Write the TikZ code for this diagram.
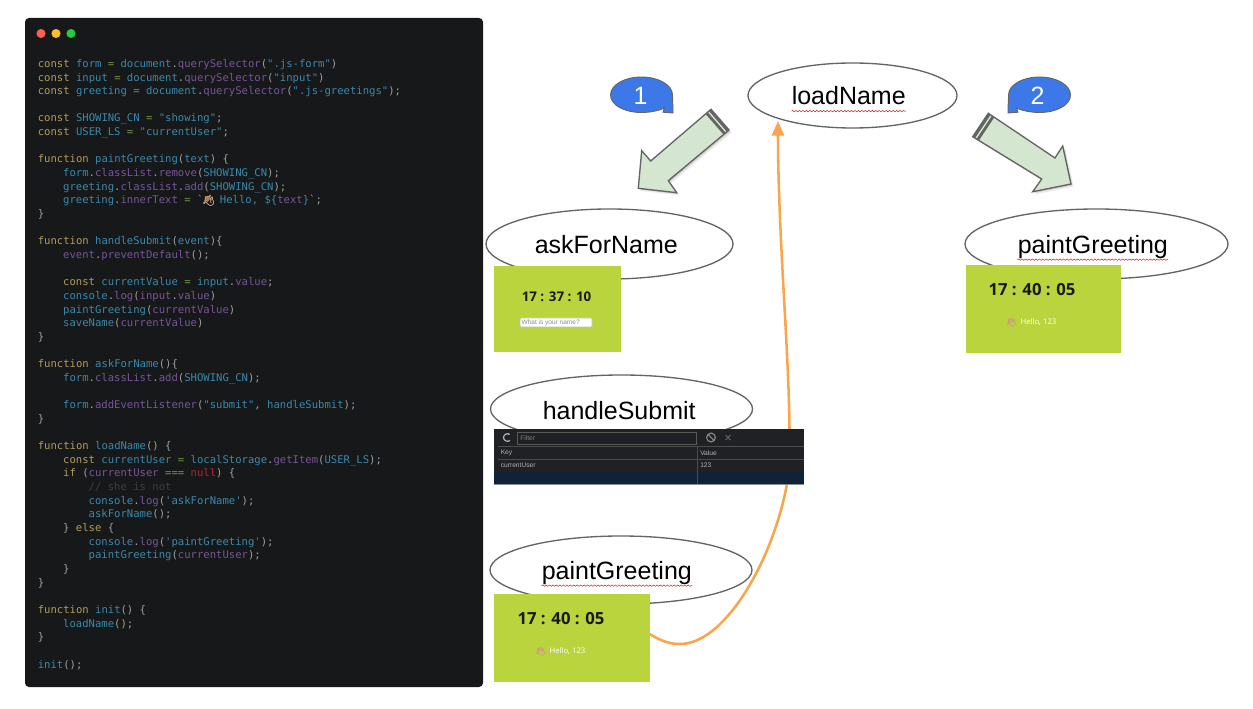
\documentclass[tikz,border=0pt]{standalone}
\usepackage{fontspec}
\setmainfont{Liberation Sans}
\setmonofont{DejaVu Sans Mono}
\newfontfamily\clockfont{Open Sans}
\newfontfamily\emojifont[FakeBold=2]{Noto Emoji}
\usetikzlibrary{positioning,arrows.meta,shapes.geometric,calc,shadows,decorations.pathmorphing}
\definecolor{panelcol}{RGB}{22,24,25}
\definecolor{kwcol}{RGB}{176,156,92}
\definecolor{varcol}{RGB}{58,138,172}
\definecolor{mtdcol}{RGB}{120,85,155}
\definecolor{opcol}{RGB}{115,150,70}
\definecolor{nullcol}{RGB}{165,40,60}
\definecolor{cmtcol}{RGB}{60,64,68}
\definecolor{puncol}{RGB}{160,160,155}
\definecolor{limecol}{RGB}{186,212,62}
\definecolor{flowcol}{RGB}{250,165,75}
\definecolor{bubcol}{RGB}{60,120,232}
\definecolor{arrcol}{RGB}{213,230,208}
\definecolor{edgecol}{RGB}{100,100,100}
\definecolor{devcol}{RGB}{32,33,36}
\definecolor{selcol}{RGB}{15,34,56}
\definecolor{skincol}{RGB}{205,160,125}
\definecolor{closecol}{RGB}{255,95,86}
\definecolor{mincol}{RGB}{255,189,46}
\definecolor{maxcol}{RGB}{39,201,63}
\newcommand{\cKw}[1]{\textcolor{kwcol}{#1}}
\newcommand{\cVr}[1]{\textcolor{varcol}{#1}}
\newcommand{\cMt}[1]{\textcolor{mtdcol}{#1}}
\newcommand{\cOp}[1]{\textcolor{opcol}{#1}}
\newcommand{\hand}{{\emojifont\textcolor{skincol}{^^^^^1f44b}}}
\def\px{0.75pt}

\begin{document}
\begin{tikzpicture}[
  x=0.75pt, y=-0.75pt,
  codeline/.style={anchor=base west, inner sep=0pt, font=\ttfamily\fontsize{7.94}{9}\selectfont, text=puncol},
  oval/.style={ellipse, draw=edgecol, fill=white, line width=1pt, inner sep=0pt},
  ovaltxt/.style={anchor=base west, inner sep=0pt, font=\fontsize{18.75}{20}\selectfont},
  shot/.style={rectangle, fill=limecol, inner sep=0pt},
  clock/.style={font=\clockfont\bfseries\fontsize{#1}{14}\selectfont, text=black!90, inner sep=0pt},
  hello/.style={font=\clockfont\fontsize{5.8}{7}\selectfont, text=white, inner sep=0pt},
  devtxt/.style={font=\fontsize{5}{6}\selectfont, text=black!30, inner sep=0pt, anchor=west},
  devbar/.style={rectangle, inner sep=0pt, anchor=north west},
  bubble/.style={draw=edgecol, fill=bubcol, line width=0.7pt},
  bubtxt/.style={font=\fontsize{18.75}{20}\selectfont, text=white, inner sep=0pt},
  blockarrow/.style={draw=edgecol, fill=arrcol, line width=1pt, line join=miter,
                     drop shadow={shadow xshift=2pt, shadow yshift=-2pt, opacity=0.15},
                     drop shadow={shadow xshift=1pt, shadow yshift=-1pt, opacity=0.3}},
  squiggle/.style={red!75!black, line width=0.3pt, decorate,
                   decoration={snake, amplitude=0.55pt, segment length=2.6pt}},
  flow/.style={-{Triangle[length=11pt, width=9pt]}, flowcol, line width=1.9pt},
]
\useasboundingbox (0,0) rectangle (1253,709);
\fill[white] (0,0) rectangle (1253,709);

% Code panel
\fill[panelcol, rounded corners=3pt] (25,18) rectangle (483,687);
\foreach \dotx/\dotcol in {41/closecol,56/mincol,71/maxcol}
  \fill[\dotcol] (\dotx,33.5) circle (3.4pt);

\foreach \row/\ind/\txt in {
  0/0/{\cKw{const} \cVr{form} \cOp{=} \cVr{document}.\cMt{querySelector}(\cVr{".js-form"})},
  1/0/{\cKw{const} \cVr{input} \cOp{=} \cVr{document}.\cMt{querySelector}(\cVr{"input"})},
  2/0/{\cKw{const} \cVr{greeting} \cOp{=} \cVr{document}.\cMt{querySelector}(\cVr{".js-greetings"});},
  4/0/{\cKw{const} \cVr{SHOWING\_CN} \cOp{=} \cVr{"showing"};},
  5/0/{\cKw{const} \cVr{USER\_LS} \cOp{=} \cVr{"currentUser"};},
  7/0/{\cKw{function} \cVr{paintGreeting}(\cVr{text}) \{},
  8/4/{\cVr{form}.\cMt{classList}.\cMt{remove}(\cVr{SHOWING\_CN});},
  9/4/{\cVr{greeting}.\cMt{classList}.\cMt{add}(\cVr{SHOWING\_CN});},
  10/4/{\cVr{greeting}.\cMt{innerText} \cOp{=} `\makebox[7.6pt][c]{\hand} \cVr{Hello, \$\{}\cMt{text}\cVr{\}}`;},
  11/0/{\}},
  13/0/{\cKw{function} \cVr{handleSubmit}(\cVr{event})\{},
  14/4/{\cMt{event}.\cMt{preventDefault}();},
  16/4/{\cKw{const} \cVr{currentValue} \cOp{=} \cVr{input}.\cMt{value};},
  17/4/{\cVr{console}.\cMt{log}(\cMt{input}.\cMt{value})},
  18/4/{\cVr{paintGreeting}(\cMt{currentValue})},
  19/4/{\cVr{saveName}(\cMt{currentValue})},
  20/0/{\}},
  22/0/{\cKw{function} \cVr{askForName}()\{},
  23/4/{\cVr{form}.\cMt{classList}.\cMt{add}(\cVr{SHOWING\_CN});},
  25/4/{\cVr{form}.\cMt{addEventListener}(\cVr{"submit"}, \cVr{handleSubmit});},
  26/0/{\}},
  28/0/{\cKw{function} \cVr{loadName}() \{},
  29/4/{\cKw{const} \cVr{currentUser} \cOp{=} \cVr{localStorage}.\cMt{getItem}(\cVr{USER\_LS});},
  30/4/{\cKw{if} (\cMt{currentUser} \cOp{===} \textcolor{nullcol}{null}) \{},
  31/8/{\textcolor{cmtcol}{// she is not}},
  32/8/{\cVr{console}.\cMt{log}(\cVr{'askForName'});},
  33/8/{\cVr{askForName}();},
  34/4/{\} \cKw{else} \{},
  35/8/{\cVr{console}.\cMt{log}(\cVr{'paintGreeting'});},
  36/8/{\cVr{paintGreeting}(\cMt{currentUser});},
  37/4/{\}},
  38/0/{\}},
  40/0/{\cKw{function} \cVr{init}() \{},
  41/4/{\cVr{loadName}();},
  42/0/{\}},
  44/0/{\cVr{init}();}
} { \node[codeline] (code\row) at (37.5+6.37*\ind, 67.4+13.65*\row) {\txt}; }

% Function ovals
\node[oval, minimum width=209*\px, minimum height=65*\px] (loadname) at (852.5,95.5) {};
\node[oval, minimum width=247*\px, minimum height=70*\px] (askname)  at (609.5,244) {};
\node[oval, minimum width=262*\px, minimum height=68*\px] (submit)   at (621.5,409) {};
\node[oval, minimum width=262*\px, minimum height=68*\px] (paintl)   at (621,570) {};
\node[oval, minimum width=263*\px, minimum height=70*\px] (paintr)   at (1096.5,244) {};

\node[ovaltxt] (loadtxt)   at (791.5,105) {loadName};
\node[ovaltxt] (asktxt)    at (534.5,254) {askForName};
\node[ovaltxt] (submittxt) at (542.5,419.5) {handleSubmit};
\node[ovaltxt] (paintltxt) at (541.5,579.5) {paintGreeting};
\node[ovaltxt] (paintrtxt) at (1017.5,253.5) {paintGreeting};

\foreach \lbl in {loadtxt,paintltxt,paintrtxt}
  \draw[squiggle] ([yshift=-4.6pt]\lbl.base west) -- ([yshift=-4.6pt]\lbl.base east);

% Return curve, the panels sit on top of it
\coordinate (flowstart) at (640,628);
\coordinate (flowend) at (778,121);
\draw[flow] (flowstart) .. controls (662,643) and (672,644) .. (680,644)
  .. controls (725,644) and (773,560) .. (787,484)
  .. controls (796,420) and (778,260) .. (flowend);

% Screenshots
\node[shot, minimum width=127*\px, minimum height=86*\px] (shota) at (557.5,309) {};
\node[clock=10] (timea) at (556.5,297) {17 : 37 : 10};
\node[draw=black!25, fill=white, rounded corners=0.8pt, inner sep=0pt, minimum width=72*\px, minimum height=9*\px] (inputa) at (556,322.5) {};
\node[font=\fontsize{4.9}{5}\selectfont, text=black!45, inner sep=0pt, right=1.2pt of inputa.west] (hinta) {What is your name?};

\node[shot, minimum width=156*\px, minimum height=88*\px] (shotc) at (572,638) {};
\node[clock=12.5] (timec) at (561,619) {17 : 40 : 05};
\node[hello] (helloc) at (567.5,651) {Hello, 123};
\node[font=\emojifont\fontsize{6.5}{7}\selectfont, text=skincol, inner sep=0pt, left=2.5pt of helloc] (handc) {^^^^^1f44b};

\node[shot, minimum width=155*\px, minimum height=88*\px] (shotr) at (1043.5,309) {};
\node[clock=12.5] (timer) at (1032,290) {17 : 40 : 05};
\node[hello] (hellor) at (1038.5,322) {Hello, 123};
\node[font=\emojifont\fontsize{6.5}{7}\selectfont, text=skincol, inner sep=0pt, left=2.5pt of hellor] (handr) {^^^^^1f44b};

% Storage panel
\node[devbar, fill=devcol, minimum width=310*\px, minimum height=56*\px] (dev) at (494,428.5) {};
\node[devbar, fill=selcol, minimum width=310*\px, minimum height=12*\px] (devsel) at (494,472) {};
\draw[black!70!white, line width=0.5pt] (498,446.5) -- (804,446.5) (498,459) -- (804,459);
\draw[black!70!white, line width=0.5pt] (697.5,446.5) -- (697.5,484);
\draw[black!45, line width=0.5pt] (494,484.5) -- (804,484.5);
\node[devbar, draw=black!65, minimum width=179*\px, minimum height=12*\px] (filter) at (517,431.5) {};
\node[devtxt, text=black!50] (filtertxt) at (520,438) {Filter};
\node[devtxt] (keytxt) at (500.5,452.8) {Key};
\node[devtxt] (valtxt) at (700,452.8) {Value};
\node[devtxt] (usertxt) at (500.5,465.3) {currentUser};
\node[devtxt] (numtxt) at (700,465.3) {123};
\draw[black!30, line width=0.9pt, -{Stealth[length=2pt]}] (510,440.5) .. controls (507.5,442.5) and (503.5,440.5) .. (503.5,437.5)
  .. controls (503.5,434.5) and (507.5,433) .. (510,435);
\draw[black!45, line width=0.8pt] (711,437.5) circle (3.3pt) (708,434.5) -- (714,440.5);
\draw[black!60, line width=0.6pt] (725.5,435) -- (730.5,440) (725.5,440) -- (730.5,435);

% Step bubbles
\draw[bubble] (672.5,95) .. controls (672.5,85) and (658.5,77) .. (641.5,77)
  .. controls (624.5,77) and (610.5,85) .. (610.5,95)
  .. controls (610.5,105) and (624.5,112.5) .. (641.5,112.5)
  .. controls (649,112.5) and (658,111) .. (664.5,108) -- (663,112.2) -- (673,113) -- (673,106.5)
  .. controls (672.5,102) and (672.5,99) .. (672.5,95) -- cycle;
\node[bubtxt] (stepone) at (640.5,96) {1};
\draw[bubble] (1008.5,95) .. controls (1008.5,85) and (1022.5,77) .. (1039.5,77)
  .. controls (1056.5,77) and (1070.5,85) .. (1070.5,95)
  .. controls (1070.5,105) and (1056.5,112.5) .. (1039.5,112.5)
  .. controls (1032,112.5) and (1023,111) .. (1016.5,108) -- (1018,112.2) -- (1008,113) -- (1008,106.5)
  .. controls (1008.5,102) and (1008.5,99) .. (1008.5,95) -- cycle;
\node[bubtxt] (steptwo) at (1037.5,96) {2};

% Block arrows
\coordinate (la) at (711,109.3); \coordinate (lb) at (729,130);
\coordinate (lc) at (668.3,180.7); \coordinate (ld) at (650.7,161);
\draw[blockarrow] (la) -- (lb) -- (lc) -- (676.7,192.7) -- (638.3,188.3) -- (641.7,150.7) -- (ld) -- cycle;
\fill[edgecol] (la) -- (lb) -- ($(lb)!0.034!(lc)$) -- ($(la)!0.034!(ld)$) -- cycle;
\fill[edgecol] ($(la)!0.055!(ld)$) -- ($(lb)!0.055!(lc)$) -- ($(lb)!0.09!(lc)$) -- ($(la)!0.09!(ld)$) -- cycle;

\coordinate (ra) at (988.3,113.3); \coordinate (rb) at (972.7,136.7);
\coordinate (rc) at (1041.7,179); \coordinate (rd) at (1055,158);
\draw[blockarrow] (ra) -- (rd) -- (1062.7,146) -- (1071,184) -- (1032.7,191.7) -- (rc) -- (rb) -- cycle;
\fill[edgecol] (ra) -- (rb) -- ($(rb)!0.034!(rc)$) -- ($(ra)!0.034!(rd)$) -- cycle;
\fill[edgecol] ($(ra)!0.055!(rd)$) -- ($(rb)!0.055!(rc)$) -- ($(rb)!0.09!(rc)$) -- ($(ra)!0.09!(rd)$) -- cycle;

\end{tikzpicture}
\end{document}
